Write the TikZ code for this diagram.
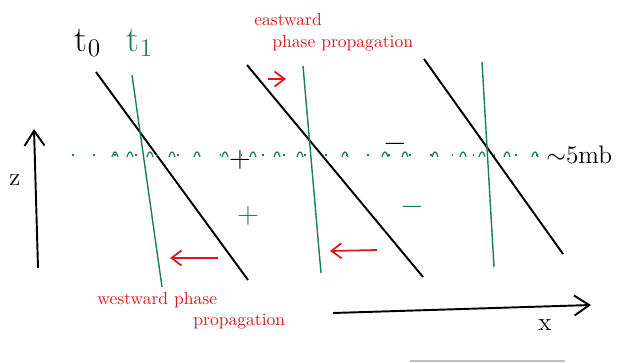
\documentclass[tikz,border=0pt]{standalone}
\usepackage{tikz}
\usetikzlibrary{positioning, arrows.meta}
\definecolor{wavegreen}{RGB}{22,128,92}
\definecolor{notered}{RGB}{222,24,24}

\begin{document}
\begin{tikzpicture}[
    x=0.02cm, y=-0.02cm,
    phasezero/.style={draw, black, line width=1.1pt},
    phaseone/.style={draw, wavegreen, line width=0.8pt},
    axis/.style={draw, black, line width=1.1pt, -{Straight Barb[length=3mm, width=4mm]}},
    redarrow/.style={draw, notered, line width=1pt, -{Straight Barb[length=2mm, width=3mm]}},
    note/.style={text=notered, font=\normalsize, inner sep=0pt, anchor=west},
    sign/.style={font=\LARGE, inner sep=0pt},
]
\useasboundingbox (0,0) rectangle (621,362);

\node[font=\huge] (tzero) at (88,43) {t$_0$};
\node[font=\huge, text=wavegreen] (tone) at (140,43) {t$_1$};

\coordinate (a1) at (96,72);   \coordinate (a2) at (248,280);
\coordinate (b1) at (247,65);  \coordinate (b2) at (423,277);
\coordinate (c1) at (424,59);  \coordinate (c2) at (563,254);
\draw[phasezero] (a1) -- (a2);
\draw[phasezero] (b1) -- (b2);
\draw[phasezero] (c1) -- (c2);

\coordinate (d1) at (132,75);  \coordinate (d2) at (162,287);
\coordinate (e1) at (303,66);  \coordinate (e2) at (321,273);
\coordinate (f1) at (482,62);  \coordinate (f2) at (494,267);
\draw[phaseone] (d1) -- (d2);
\draw[phaseone] (e1) -- (e2);
\draw[phaseone] (f1) -- (f2);

\coordinate (lvlL) at (72,155);
\coordinate (lvlR) at (540,155);
\draw[wavegreen, line width=0.8pt, dash pattern=on 1pt off 11pt] (lvlL) -- (lvlR);
\foreach \a in {115,130,150,172,197,225,253,277,300,345,385,405,435,463,482,507,535}
    \draw[wavegreen, line width=0.7pt] (\a-3,157) parabola bend (\a,152) (\a+3,157);
\node[font=\Large, anchor=west, inner sep=0pt] (level) at (546,155) {$\sim$5mb};

\node[sign] (plusk) at (240,160) {$+$};
\node[sign] (minusk) at (395,144) {$-$};
\node[sign, text=wavegreen] (plusg) at (248,216) {$+$};
\node[sign, text=wavegreen] (minusg) at (412,207) {$-$};

\coordinate (zlo) at (38,268);
\coordinate (zhi) at (34,129);
\draw[axis] (zlo) -- (zhi);
\node[font=\Large] (zlab) at (15,180) {z};

\coordinate (xlo) at (333,313);
\coordinate (xhi) at (591,305);
\draw[axis] (xlo) -- (xhi);
\node[font=\Large] (xlab) at (545,325) {x};

\node[note] (eastA) at (254,19) {eastward};
\node[note] (eastB) at (272,43) {phase propagation};
\coordinate (ea1) at (268,79);
\coordinate (ea2) at (286,79);
\draw[redarrow] (ea1) -- (ea2);

\coordinate (wa1) at (218,258);
\coordinate (wa2) at (170,258);
\draw[redarrow] (wa1) -- (wa2);
\coordinate (wb1) at (377,250);
\coordinate (wb2) at (330,251);
\draw[redarrow] (wb1) -- (wb2);

\node[note] (westA) at (97,300) {westward phase};
\node[note] (westB) at (193,322) {propagation};

\coordinate (barL) at (410,361);
\coordinate (barR) at (565,361);
\draw[black!25, line width=0.6pt] (barL) -- (barR);
\end{tikzpicture}
\end{document}
